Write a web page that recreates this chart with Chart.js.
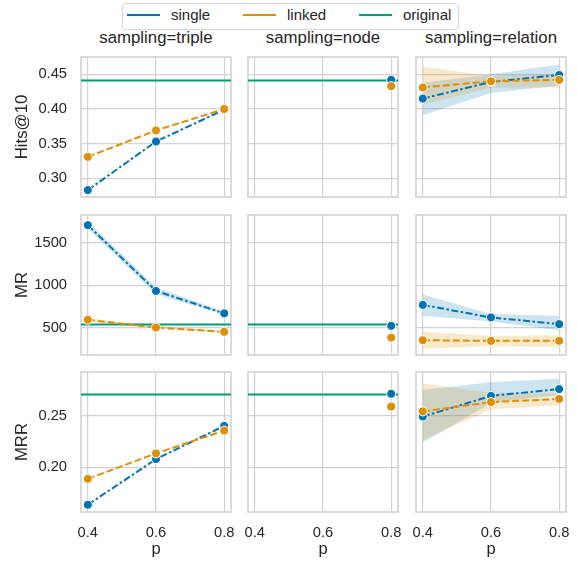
<!DOCTYPE html>
<html>
<head>
<meta charset="utf-8">
<script src="https://cdn.jsdelivr.net/npm/chart.js@4.4.0/dist/chart.umd.min.js"></script>
<style>
body{margin:0;background:#fff;font-family:"Liberation Sans",Arial,sans-serif;color:#262626}
#wrap{position:relative;width:577px;height:564px;overflow:hidden;background:#fff}
#wrap canvas{position:absolute}
.colTitle{position:absolute;top:28px;width:150px;font-size:16.8px;line-height:20px;text-align:center;white-space:nowrap}
.legendBox{position:absolute;left:122px;top:3px;width:335px;height:25px;border:1px solid #d6d6d6;border-radius:4px}
.legendLine{position:absolute;top:14px;width:33px;height:2px}
.legendText{position:absolute;top:6px;font-size:15px;line-height:18px;white-space:nowrap}
</style>
</head>
<body>
<div id="wrap">
    <div class="legendBox"></div>
    <div class="legendLine" style="left:127px;background:#0173b2"></div>
    <div class="legendText" style="left:171px">single</div>
    <div class="legendLine" style="left:243px;background:#de8f05"></div>
    <div class="legendText" style="left:287px">linked</div>
    <div class="legendLine" style="left:359px;background:#029e73"></div>
    <div class="legendText" style="left:403px">original</div>
</div>
<script>
var pValues = [0.4, 0.6, 0.8];
var samplingNames = ["triple", "node", "relation"];
var metricNames = ["Hits@10", "MR", "MRR"];

// rows of each array: triple, node, relation
var hitsSingle = [[0.283, 0.353, 0.399], [null, null, 0.442], [0.415, 0.439, 0.449]];
var hitsLinked = [[0.331, 0.369, 0.400], [null, null, 0.433], [0.431, 0.440, 0.442]];
var hitsOriginal = 0.441;
var hitsSingleLow = [null, null, [0.391, 0.423, 0.434]];
var hitsSingleHigh = [null, null, [0.438, 0.450, 0.464]];
var hitsLinkedLow = [null, null, [0.406, 0.431, 0.431]];
var hitsLinkedHigh = [null, null, [0.461, 0.448, 0.450]];

var mrSingle = [[1710, 932, 667], [null, null, 520], [767, 619, 540]];
var mrLinked = [[591, 500, 449], [null, null, 381], [350, 342, 342]];
var mrOriginal = 536;
var mrSingleLow = [[1670, 890, 650], null, [639, 571, 469]];
var mrSingleHigh = [[1750, 975, 685], null, [889, 659, 639]];
var mrLinkedLow = [[572, 490, 436], null, [250, 282, 270]];
var mrLinkedHigh = [[610, 512, 462], null, [449, 401, 409]];

var mrrSingle = [[0.164, 0.208, 0.240], [null, null, 0.271], [0.249, 0.269, 0.2755]];
var mrrLinked = [[0.189, 0.2135, 0.2355], [null, null, 0.2587], [0.254, 0.263, 0.266]];
var mrrOriginal = 0.2703;
var mrrSingleLow = [null, null, [0.224, 0.262, 0.270]];
var mrrSingleHigh = [null, null, [0.275, 0.282, 0.2855]];
var mrrLinkedLow = [null, null, [0.2265, 0.256, 0.260]];
var mrrLinkedHigh = [null, null, [0.281, 0.272, 0.271]];

// the original baseline only appears in the triple and node panels
var originalShown = [true, true, false];

var hitsTicks = [0.30, 0.35, 0.40, 0.45];
var mrTicks = [500, 1000, 1500];
var mrrTicks = [0.20, 0.25];
var pTicks = [0.4, 0.6, 0.8];

var BLUE = "#0173b2", ORANGE = "#de8f05", GREEN = "#029e73";
var BLUE_BAND = "rgba(1,115,178,0.2)", ORANGE_BAND = "rgba(222,143,5,0.2)";
var GRID = "#d3d3d3";
var FONT = "'Liberation Sans', Arial, sans-serif";
var X_MIN = 0.38, X_MAX = 0.82;

var rows = [
    {single: hitsSingle, linked: hitsLinked, original: hitsOriginal,
     sLow: hitsSingleLow, sHigh: hitsSingleHigh, lLow: hitsLinkedLow, lHigh: hitsLinkedHigh,
     ticks: hitsTicks, min: 0.273, max: 0.475, digits: 2},
    {single: mrSingle, linked: mrLinked, original: mrOriginal,
     sLow: mrSingleLow, sHigh: mrSingleHigh, lLow: mrLinkedLow, lHigh: mrLinkedHigh,
     ticks: mrTicks, min: 175, max: 1830, digits: 0},
    {single: mrrSingle, linked: mrrLinked, original: mrrOriginal,
     sLow: mrrSingleLow, sHigh: mrrSingleHigh, lLow: mrrLinkedLow, lHigh: mrrLinkedHigh,
     ticks: mrrTicks, min: 0.157, max: 0.292, digits: 2}
];

var colLeft = [81, 248, 416];
var rowTop = [57, 215, 372];
var PW = 150, PH = 140;

Chart.defaults.font.family = FONT;
Chart.defaults.color = "#262626";

//画外框
var framePlugin = {
    id: "frame",
    beforeDatasetsDraw: function (chart) {
        var a = chart.chartArea, ctx = chart.ctx;
        ctx.save();
        ctx.strokeStyle = GRID;
        ctx.lineWidth = 1.6;
        ctx.strokeRect(a.left, a.top, a.right - a.left, a.bottom - a.top);
        ctx.restore();
    }
};

function toPoints(values) {
    return pValues.map(function (p, i) {
        return {x: p, y: values[i]};
    });
}

function bandSets(low, high, color, order) {
    return [
        {data: toPoints(high), borderWidth: 0, pointRadius: 0, fill: false, backgroundColor: color, order: order},
        {data: toPoints(low), borderWidth: 0, pointRadius: 0, fill: "-1", backgroundColor: color, order: order}
    ];
}

function lineSet(values, color, dash, order) {
    return {
        data: toPoints(values),
        borderColor: color,
        borderWidth: 2,
        borderDash: dash,
        pointRadius: 4.5,
        pointBackgroundColor: color,
        pointBorderColor: "#fff",
        pointBorderWidth: 1,
        fill: false,
        tension: 0,
        order: order
    };
}

function noPadding(s) {
    s.paddingLeft = 0;
    s.paddingRight = 0;
    s.paddingTop = 0;
    s.paddingBottom = 0;
}

function makePanel(r, c) {
    var row = rows[r];
    var L = c == 0 ? 81 : 8, R = 8, T = 8, B = r == 2 ? 52 : 8;
    var canvas = document.createElement("canvas");
    canvas.width = PW + L + R;
    canvas.height = PH + T + B;
    canvas.style.left = (colLeft[c] - L) + "px";
    canvas.style.top = (rowTop[r] - T) + "px";
    document.getElementById("wrap").appendChild(canvas);

    var datasets = [];
    if (row.sLow[c]) datasets = datasets.concat(bandSets(row.sLow[c], row.sHigh[c], BLUE_BAND, 9));
    if (row.lLow[c]) datasets = datasets.concat(bandSets(row.lLow[c], row.lHigh[c], ORANGE_BAND, 8));
    if (originalShown[c]) {
        datasets.push({
            data: [{x: X_MIN, y: row.original}, {x: X_MAX, y: row.original}],
            borderColor: GREEN, borderWidth: 2, pointRadius: 0, fill: false, order: 7
        });
    }
    datasets.push(lineSet(row.single[c], BLUE, [7, 2.5, 2.5, 2.5], 6));
    datasets.push(lineSet(row.linked[c], ORANGE, [7, 3], 5));

    new Chart(canvas.getContext("2d"), {
        type: "line",
        data: {datasets: datasets},
        options: {
            responsive: false,
            animation: false,
            devicePixelRatio: 1,
            layout: {padding: {left: c == 0 ? 0 : L, right: R, top: T, bottom: r == 2 ? 0 : B}},
            plugins: {legend: {display: false}, tooltip: {enabled: false}},
            scales: {
                x: {
                    type: "linear",
                    min: X_MIN,
                    max: X_MAX,
                    afterBuildTicks: function (s) {
                        s.ticks = pTicks.map(function (v) { return {value: v}; });
                    },
                    afterFit: function (s) {
                        s.height = r == 2 ? B : 0;
                        noPadding(s);
                    },
                    grid: {color: GRID, lineWidth: 1.2, drawTicks: false},
                    border: {display: false},
                    ticks: {
                        display: r == 2,
                        padding: 12,
                        font: {size: 14.7},
                        callback: function (v) { return v.toFixed(1); }
                    },
                    title: {display: r == 2, text: "p", font: {size: 16.5}, padding: {top: 0, bottom: 4.5}}
                },
                y: {
                    type: "linear",
                    min: row.min,
                    max: row.max,
                    afterBuildTicks: function (s) {
                        s.ticks = row.ticks.map(function (v) { return {value: v}; });
                    },
                    afterFit: function (s) {
                        s.width = c == 0 ? L : 0;
                        noPadding(s);
                    },
                    grid: {color: GRID, lineWidth: 1.2, drawTicks: false},
                    border: {display: false},
                    ticks: {
                        display: c == 0,
                        padding: 14,
                        font: {size: 14.7},
                        callback: function (v) { return row.digits ? v.toFixed(row.digits) : String(v); }
                    },
                    title: {display: c == 0, text: metricNames[r], font: {size: 16.8}, padding: {top: 12.5, bottom: 0}}
                }
            }
        },
        plugins: [framePlugin]
    });
}

for (var c = 0; c < 3; c++) {
    var t = document.createElement("div");
    t.className = "colTitle";
    t.style.left = colLeft[c] + "px";
    t.textContent = "sampling=" + samplingNames[c];
    document.getElementById("wrap").appendChild(t);
}
for (var r = 0; r < 3; r++) {
    for (var c2 = 0; c2 < 3; c2++) {
        makePanel(r, c2);
    }
}
</script>
</body>
</html>
